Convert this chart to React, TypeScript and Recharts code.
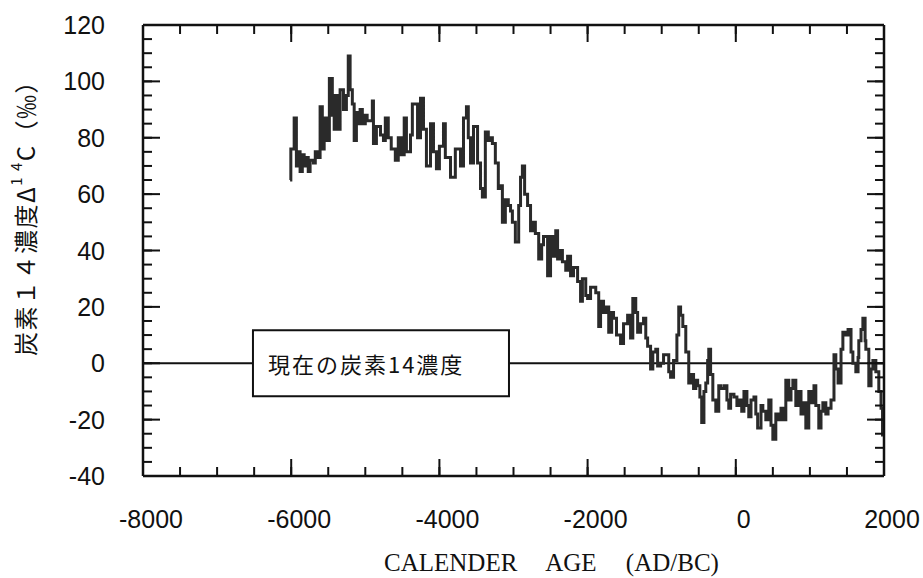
import React from 'react';
import { LineChart, Line, XAxis, YAxis, ReferenceArea, ReferenceLine } from 'recharts';

// calendar age (AD/BC) and Δ14C (‰)
const years = [
  -6015, -6005, -5960, -5930, -5905, -5880, -5850, -5825, -5795, -5770, -5745, -5700, -5675, -5635,
  -5610, -5580, -5555, -5525, -5485, -5445, -5420, -5405, -5365, -5340, -5295, -5255, -5230, -5205,
  -5175, -5150, -5120, -5095, -5070, -5040, -5000, -4975, -4905, -4890, -4850, -4795, -4755, -4730,
  -4690, -4650, -4595, -4555, -4515, -4475, -4445, -4390, -4365, -4325, -4295, -4255, -4215, -4175,
  -4120, -4080, -4040, -4000, -3945, -3920, -3850, -3785, -3715, -3675, -3635, -3610, -3580, -3540,
  -3485, -3445, -3420, -3380, -3340, -3310, -3285, -3245, -3205, -3175, -3150, -3110, -3070, -3040,
  -3015, -2975, -2930, -2905, -2880, -2850, -2810, -2770, -2730, -2705, -2660, -2620, -2595, -2540,
  -2500, -2460, -2430, -2405, -2365, -2340, -2295, -2270, -2230, -2190, -2135, -2095, -2070, -2025,
  -2000, -1960, -1890, -1850, -1825, -1785, -1755, -1715, -1675, -1650, -1610, -1555, -1515, -1460,
  -1420, -1390, -1350, -1325, -1285, -1245, -1215, -1190, -1150, -1120, -1080, -1055, -1015, -975,
  -945, -905, -880, -840, -795, -770, -745, -715, -675, -635, -595, -570, -540, -515, -485, -460,
  -430, -405, -380, -365, -340, -310, -270, -230, -205, -160, -120, -95, -70, -25, 15, 40, 80, 110,
  150, 175, 205, 245, 270, 295, 340, 365, 405, 445, 475, 500, 540, 570, 610, 635, 675, 715, 745, 770,
  810, 850, 880, 905, 945, 985, 1015, 1055, 1080, 1120, 1150, 1175, 1215, 1245, 1285, 1325, 1350,
  1380, 1420, 1445, 1485, 1515, 1555, 1580, 1620, 1650, 1660, 1690, 1715, 1745, 1755, 1795, 1825,
  1850, 1890, 1930, 1960, 1980,
];
const d14c = [
  65, 76, 87, 70, 75, 68, 74, 70, 73, 68, 72, 71, 75, 73,
  91, 76, 87, 79, 101, 88, 83, 95, 83, 97, 90, 95, 109, 97,
  92, 79, 89, 85, 90, 85, 88, 86, 93, 78, 84, 81, 79, 87,
  80, 76, 72, 80, 74, 87, 75, 81, 92, 92, 80, 94, 83, 70,
  85, 75, 69, 77, 85, 73, 66, 76, 70, 87, 91, 80, 71, 84,
  71, 62, 59, 82, 79, 80, 78, 71, 62, 63, 50, 58, 56, 54,
  50, 43, 56, 66, 70, 60, 56, 47, 50, 46, 37, 42, 45, 31,
  45, 38, 47, 37, 40, 36, 33, 38, 31, 34, 29, 22, 30, 24,
  23, 27, 25, 13, 22, 18, 20, 11, 18, 16, 10, 7, 14, 17,
  9, 23, 18, 11, 14, 16, 9, 6, -2, 4, 5, -1, 0, 3,
  3, -3, -5, 1, 10, 20, 17, 13, 4, -7, -4, -9, -6, -8, -12, -21,
  -10, -7, 1, 5, -4, -13, -17, -8, -9, -8, -13, -16, -11, -12, -15, -13, -17, -10,
  -15, -19, -13, -12, -18, -23, -15, -17, -20, -13, -22, -27, -18, -20, -16, -20, -6, -13, -9, -6,
  -15, -10, -18, -14, -23, -10, -14, -8, -15, -23, -17, -14, -18, -16, -13, 3, -2,
  -7, 5, 11, 10, 12, 4, 0, -3, 2, 8, 12, 16, 8, 5, -8, -2,
  1, -3, -10, -16, -26,
];

const xTicks = [-8000, -7500, -7000, -6500, -6000, -5500, -5000, -4500, -4000, -3500, -3000, -2500, -2000, -1500, -1000, -500, 0, 500, 1000, 1500, 2000];
const xLabelTicks = [-8000, -6000, -4000, -2000, 0, 2000];
const yTicks = [-40, -35, -30, -25, -20, -15, -10, -5, 0, 5, 10, 15, 20, 25, 30, 35, 40, 45, 50, 55, 60, 65, 70, 75, 80, 85, 90, 95, 100, 105, 110, 115, 120];
const yLabelTicks = [-40, -20, 0, 20, 40, 60, 80, 100, 120];

// annotation box "present-day carbon-14 level" (data coordinates)
const boxYears = [-6516, -3061];
const boxD14c = [-11.7, 11.7];
const boxText = '現在の炭素14濃度';

const data = years.map((year, i) => ({ year, d14c: d14c[i] }));

const INK = '#111';
const SANS = "'Liberation Sans', Arial, Helvetica, sans-serif";
const SERIF = "'Liberation Serif', 'Times New Roman', serif";
const CJK = "'Noto Sans CJK JP', 'Noto Sans CJK SC', sans-serif";
const X_DOMAIN: [number, number] = [-8000, 2000];
const Y_DOMAIN: [number, number] = [-40, 120];
const AXIS_LINE = { stroke: INK, strokeWidth: 2.5 };
const TICK_LINE = { stroke: INK, strokeWidth: 2 };
const MINOR = 8;
const MAJOR = 17;

const EmptyTick = () => null;

// mirrored bottom axis: tick y is (axis - MAJOR)
const BottomLabel = (props: any) => {
  const { x, y, payload } = props;
  return (
    <text x={x + 8} y={y + MAJOR + 52} textAnchor="middle" fontFamily={SANS} fontSize={25} fill={INK}>
      {payload.value}
    </text>
  );
};

// mirrored left axis: tick x is (axis + MAJOR)
const LeftLabel = (props: any) => {
  const { x, y, payload } = props;
  return (
    <text x={x - MAJOR - 38} y={y + 9} textAnchor="end" fontFamily={SANS} fontSize={25} fill={INK}>
      {payload.value}
    </text>
  );
};

const YTitle = (props: any) => {
  const vb = props.viewBox || { x: 143, y: 25 };
  const cx = vb.x - 119;
  const cy = vb.y + 187;
  return (
    <text
      x={cx}
      y={cy}
      transform={`rotate(-90 ${cx} ${cy})`}
      textAnchor="middle"
      dominantBaseline="central"
      fontFamily={CJK}
      fontSize={24}
      fill={INK}
      letterSpacing={1.5}
    >
      炭素１４濃度Δ
      <tspan fontSize={15} dy={-9}>1 4</tspan>
      <tspan dy={9}>C</tspan>
      （‰）
    </text>
  );
};

const XTitle = (props: any) => {
  const vb = props.viewBox || { x: 143, y: 475, width: 741 };
  return (
    <text
      x={vb.x + vb.width / 2 + 38}
      y={vb.y + 96}
      textAnchor="middle"
      fontFamily={SERIF}
      fontSize={25}
      fill={INK}
      style={{ wordSpacing: '23px' }}
    >
      CALENDER AGE (AD/BC)
    </text>
  );
};

const BoxLabel = (props: any) => {
  const vb = props.viewBox || { x: 0, y: 0, width: 0, height: 0 };
  return (
    <text
      x={vb.x + 15}
      y={vb.y + vb.height / 2}
      dominantBaseline="central"
      fontFamily={CJK}
      fontSize={22}
      fill={INK}
      letterSpacing={2}
    >
      {boxText}
    </text>
  );
};

export default function App() {
  return (
    <div style={{ position: 'absolute', left: 0, top: 0, width: 923, height: 578, background: '#fff' }}>
      <LineChart width={923} height={578} data={data} margin={{ top: 25, right: 39, bottom: 102, left: 143 }}>
        {/* bottom: major ticks with labels (series axis) */}
        <XAxis
          dataKey="year"
          type="number"
          domain={X_DOMAIN}
          ticks={xLabelTicks}
          interval={0}
          allowDataOverflow
          mirror
          height={1}
          tickSize={MAJOR}
          tickMargin={0}
          tickLine={TICK_LINE}
          axisLine={AXIS_LINE}
          tick={<BottomLabel />}
          label={{ content: <XTitle /> }}
        />
        <XAxis
          xAxisId="bottomMinor"
          dataKey="year"
          type="number"
          domain={X_DOMAIN}
          ticks={xTicks}
          interval={0}
          allowDataOverflow
          mirror
          height={1}
          tickSize={MINOR}
          tickLine={TICK_LINE}
          axisLine={false}
          tick={<EmptyTick />}
        />
        <XAxis
          xAxisId="topMajor"
          orientation="top"
          dataKey="year"
          type="number"
          domain={X_DOMAIN}
          ticks={xLabelTicks}
          interval={0}
          allowDataOverflow
          mirror
          height={1}
          tickSize={MAJOR}
          tickLine={TICK_LINE}
          axisLine={AXIS_LINE}
          tick={<EmptyTick />}
        />
        <XAxis
          xAxisId="topMinor"
          orientation="top"
          dataKey="year"
          type="number"
          domain={X_DOMAIN}
          ticks={xTicks}
          interval={0}
          allowDataOverflow
          mirror
          height={1}
          tickSize={MINOR}
          tickLine={TICK_LINE}
          axisLine={false}
          tick={<EmptyTick />}
        />
        {/* left: major ticks with labels (series axis) */}
        <YAxis
          type="number"
          domain={Y_DOMAIN}
          ticks={yLabelTicks}
          interval={0}
          allowDataOverflow
          mirror
          width={1}
          tickSize={MAJOR}
          tickMargin={0}
          tickLine={TICK_LINE}
          axisLine={AXIS_LINE}
          tick={<LeftLabel />}
          label={{ content: <YTitle /> }}
        />
        <YAxis
          yAxisId="leftMinor"
          type="number"
          domain={Y_DOMAIN}
          ticks={yTicks}
          interval={0}
          allowDataOverflow
          mirror
          width={1}
          tickSize={MINOR}
          tickLine={TICK_LINE}
          axisLine={false}
          tick={<EmptyTick />}
        />
        <YAxis
          yAxisId="rightMajor"
          orientation="right"
          type="number"
          domain={Y_DOMAIN}
          ticks={yLabelTicks}
          interval={0}
          allowDataOverflow
          mirror
          width={1}
          tickSize={MAJOR}
          tickLine={TICK_LINE}
          axisLine={AXIS_LINE}
          tick={<EmptyTick />}
        />
        <YAxis
          yAxisId="rightMinor"
          orientation="right"
          type="number"
          domain={Y_DOMAIN}
          ticks={yTicks}
          interval={0}
          allowDataOverflow
          mirror
          width={1}
          tickSize={MINOR}
          tickLine={TICK_LINE}
          axisLine={false}
          tick={<EmptyTick />}
        />
        <ReferenceLine
          segment={[{ x: -8000, y: 0 }, { x: boxYears[0], y: 0 }]}
          stroke={INK}
          strokeWidth={1.8}
          ifOverflow="visible"
        />
        <ReferenceLine
          segment={[{ x: boxYears[1], y: 0 }, { x: 2000, y: 0 }]}
          stroke={INK}
          strokeWidth={1.8}
          ifOverflow="visible"
        />
        <ReferenceArea
          x1={boxYears[0]}
          x2={boxYears[1]}
          y1={boxD14c[0]}
          y2={boxD14c[1]}
          fill="#fff"
          fillOpacity={1}
          stroke={INK}
          strokeWidth={2}
          label={{ content: <BoxLabel /> }}
        />
        <Line
          dataKey="d14c"
          type="stepAfter"
          stroke="#2a2a2a"
          strokeWidth={3}
          dot={false}
          isAnimationActive={false}
        />
      </LineChart>
    </div>
  );
}
